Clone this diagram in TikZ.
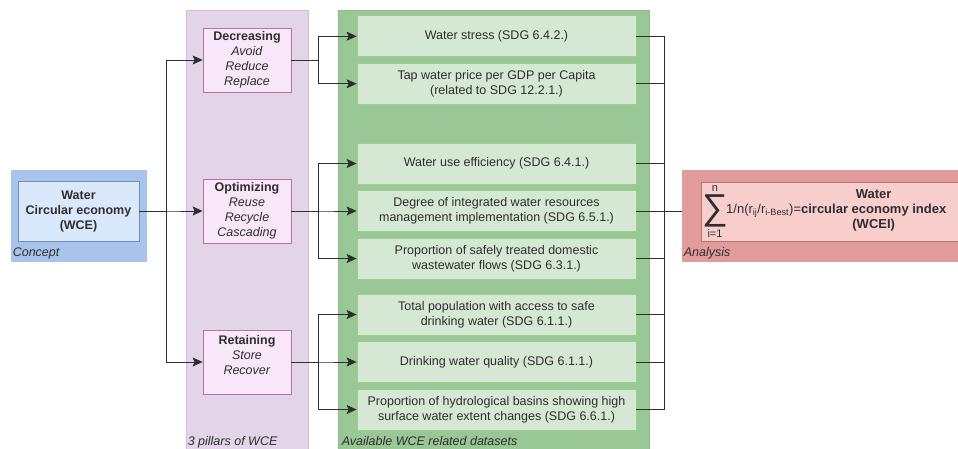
\documentclass[tikz,border=0pt]{standalone}
\usepackage{fontspec}
\setmainfont{Liberation Sans}
\usetikzlibrary{positioning,arrows.meta}
\definecolor{conceptfill}{HTML}{A9C4EB}
\definecolor{wcefill}{HTML}{DAE8FC}
\definecolor{wcedraw}{HTML}{6C8EBF}
\definecolor{pillarfill}{HTML}{E1D5E7}
\definecolor{pillarline}{HTML}{E3B5DC}
\definecolor{stepfill}{HTML}{F8E7F8}
\definecolor{stepdraw}{HTML}{B5739D}
\definecolor{datafill}{HTML}{9AC796}
\definecolor{dataline}{HTML}{8DBE89}
\definecolor{setfill}{HTML}{D5E8D4}
\definecolor{setdraw}{HTML}{9CCF8C}
\definecolor{analysisfill}{HTML}{E19B9A}
\definecolor{indexfill}{HTML}{F8CECC}
\definecolor{indexdraw}{HTML}{C0706E}
\definecolor{linegray}{HTML}{2E2E2E}
\definecolor{textgray}{HTML}{2E2E2E}
\tikzset{
  panel/.style={draw, line width=0.8pt, inner sep=0pt},
  panellabel/.style={font=\fontsize{12.5}{15}\selectfont\itshape, text=textgray, anchor=base west, inner sep=0pt},
  wcebox/.style={draw=wcedraw, fill=wcefill, line width=0.8pt, minimum width=121pt, minimum height=60pt, font=\fontsize{12.5}{15}\selectfont\bfseries},
  stepbox/.style={draw=stepdraw, fill=stepfill, line width=0.8pt, minimum width=88pt, minimum height=64pt, inner sep=0pt},
  setbox/.style={draw=setdraw, fill=setfill, line width=0.8pt, minimum width=279pt, minimum height=41pt, inner sep=0pt},
  busline/.style={draw=linegray, line width=0.9pt}
}
\begin{document}
\begin{tikzpicture}[x=1pt,y=-1pt,
  font=\fontsize{12.5}{15}\selectfont, text=textgray,
  edge from parent/.style={draw=linegray,line width=0.9pt,-{Stealth[length=10pt,width=9pt,inset=2pt]}},
  edge from parent path={(\tikzparentnode.east) -- ++(27.5,0) |- (\tikzchildnode.west)},
  grow'=right,
  level 1/.style={sibling distance=151pt,level distance=168.5pt},
  level 2/.style={sibling distance=47.5pt,level distance=249.5pt},
  every node/.style={align=center}]
  \useasboundingbox (0,0) rectangle (958,448);

  % panels
  \node[panel, fill=conceptfill, draw=conceptfill, minimum width=135pt, minimum height=91pt] (conceptpanel) at (78.5,215.5) {};
  \node[panel, fill=pillarfill, draw=pillarline, minimum width=122pt, minimum height=441pt] (pillarpanel) at (247,230.5) {};
  \node[panel, fill=datafill, draw=dataline, minimum width=311pt, minimum height=441pt] (datapanel) at (493.5,230.5) {};
  \node[panel, fill=analysisfill, draw=analysisfill, minimum width=308pt, minimum height=91pt] (analysispanel) at (836,215.5) {};
  \node[panellabel] (conceptlabel) at ([xshift=2pt,yshift=5pt]conceptpanel.south west) {Concept};
  \node[panellabel] (pillarlabel) at ([xshift=2pt,yshift=6pt]pillarpanel.south west) {3 pillars of WCE};
  \node[panellabel] (datalabel) at ([xshift=4pt,yshift=6pt]datapanel.south west) {Available WCE related datasets};
  \node[panellabel] (analysislabel) at ([xshift=2pt,yshift=5pt]analysispanel.south west) {Analysis};

  % concept -> pillars -> datasets
  \node[wcebox] (wce) at (78.5,211) {Water\\Circular economy\\(WCE)}
    child { node[stepbox] (decr) {\textbf{Decreasing}\\\textit{Avoid}\\\textit{Reduce}\\\textit{Replace}}
      child { node[setbox] (stress) {Water stress (SDG 6.4.2.)}}
      child { node[setbox] (price) {Tap water price per GDP per Capita\\(related to SDG 12.2.1.)}}
    }
    child { node[stepbox] (optim) {\textbf{Optimizing}\\\textit{Reuse}\\\textit{Recycle}\\\textit{Cascading}}
      child { node[setbox] (effic) {Water use efficiency (SDG 6.4.1.)}}
      child { node[setbox] (iwrm) {Degree of integrated water resources\\management implementation (SDG 6.5.1.)}}
      child { node[setbox] (treated) {Proportion of safely treated domestic\\wastewater flows (SDG 6.3.1.)}}
    }
    child { node[stepbox] (retain) {\textbf{Retaining}\\\textit{Store}\\\textit{Recover}\\\mbox{}}
      child { node[setbox] (access) {Total population with access to safe\\drinking water (SDG 6.1.1.)}}
      child { node[setbox] (quality) {Drinking water quality (SDG 6.1.1.)}}
      child { node[setbox] (basins) {Proportion of hydrological basins showing high\\surface water extent changes (SDG 6.6.1.)}}
    };

  % datasets -> index
  \foreach \n in {stress,price,effic,iwrm,treated,access,quality,basins}
    \draw[busline] (\n.east) -- ++(28,0);
  \draw[busline] ([xshift=28pt]stress.east) -- ([xshift=28pt]basins.east);
  \draw[busline] ([xshift=28pt]iwrm.east) -- (iwrm.east -| analysispanel.west);

  \node[draw=indexdraw, fill=indexfill, line width=0.8pt, minimum width=289pt, minimum height=59pt] (indexbox) at (845.5,211.5) {};
  \node[inner sep=0pt, font=\fontsize{36}{36}\selectfont] (sigma) at (715,211) {∑};
  \node[inner sep=0pt, font=\fontsize{11}{13}\selectfont, above=3pt of sigma] (upper) {n};
  \node[inner sep=0pt, font=\fontsize{11}{13}\selectfont, below=1.5pt of sigma] (lower) {i=1};
  \node[inner sep=0pt, anchor=base west, font=\fontsize{13}{15}\selectfont] (wcei) at (726,213) {1/n(r\textsubscript{ij}/r\textsubscript{i-Best})=\textbf{\begin{tabular}{@{}c@{}}Water\\circular economy index\\(WCEI)\end{tabular}}};
\end{tikzpicture}
\end{document}
